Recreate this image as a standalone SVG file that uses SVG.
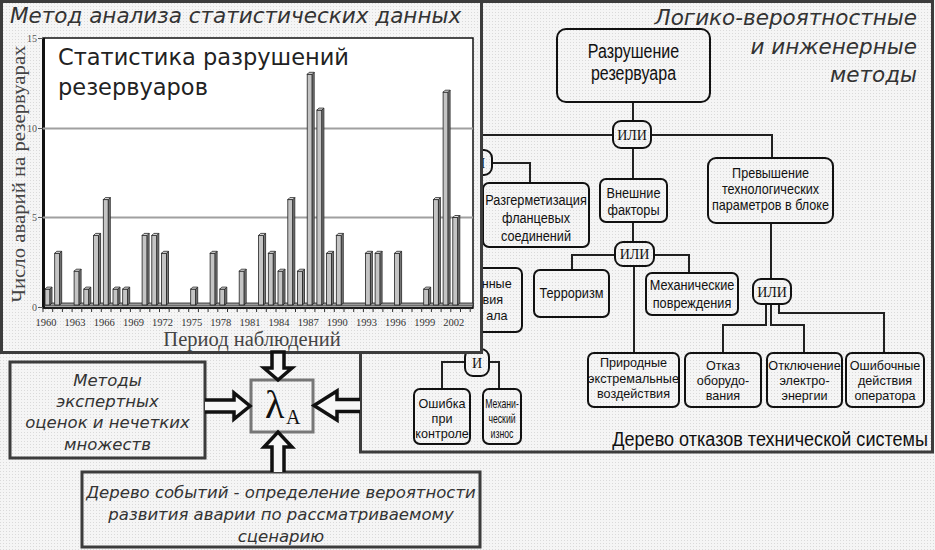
<svg xmlns="http://www.w3.org/2000/svg" width="935" height="550" viewBox="0 0 935 550">
<defs>
<pattern id="dots" width="3" height="3" patternUnits="userSpaceOnUse"><rect width="3" height="3" fill="#f5f5f5"/><rect width="1" height="1" fill="#dadada"/></pattern>
</defs>
<style>
.panel{fill:url(#dots);stroke:#3c3c3c;stroke-width:3}
.nb{fill:url(#dots);stroke:#111;stroke-width:2}
.gate{fill:url(#dots);stroke:#111;stroke-width:2}
.ln{fill:none;stroke:#222;stroke-width:2}
.t{font-family:"Liberation Sans",Arial,sans-serif;font-size:15.5px;fill:#111;text-anchor:middle}
.s{font-size:13px}
.g{font-family:"Liberation Serif","Times New Roman",serif;font-size:14px;fill:#111;text-anchor:middle}
.it{font-family:"DejaVu Sans",Verdana,sans-serif;font-style:italic;fill:#333}
.bf{fill:#c4c4c4;stroke:#222;stroke-width:0.8}
.bs{fill:#7d7d7d;stroke:#222;stroke-width:0.8}
.bt{fill:#e2e2e2;stroke:#222;stroke-width:0.8}
.yr{font-family:"Liberation Serif","Times New Roman",serif;font-size:10.5px;fill:#333;text-anchor:middle}
.yl{font-family:"Liberation Serif","Times New Roman",serif;font-size:10px;fill:#555;text-anchor:end}
.arr{fill:#f7f7f7;stroke:#111;stroke-width:3.5;stroke-linejoin:miter}
</style>
<rect width="935" height="550" fill="url(#dots)"/>

<!-- right panel: fault tree -->
<g id="tree-panel">
<rect class="panel" x="360.5" y="1.5" width="572" height="450.5"/>
<text class="it" font-size="21.5" text-anchor="end"><tspan x="917" y="25">Логико-вероятностные</tspan><tspan x="917" y="54">и инженерные</tspan><tspan x="917" y="82">методы</tspan></text>
<text class="t" style="font-size:21px;text-anchor:end" transform="translate(928 446) scale(0.86 1)" x="0" y="0">Дерево отказов технической системы</text>
</g>

<g id="connectors">
<path class="ln" d="M633 102V121"/>
<path class="ln" d="M613 135H480V150"/>
<path class="ln" d="M651 135H772V158"/>
<path class="ln" d="M633 148V179"/>
<path class="ln" d="M492 163H530V183"/>
<path class="ln" d="M480 175V268"/>
<path class="ln" d="M633 222V242"/>
<path class="ln" d="M615 255H572V270"/>
<path class="ln" d="M654 255H689V273"/>
<path class="ln" d="M634 266V353"/>
<path class="ln" d="M771 223V279"/>
<path class="ln" d="M766 304V325H723V353"/>
<path class="ln" d="M771 304V325H804V353"/>
<path class="ln" d="M779 304V313H884V353"/>
<path class="ln" d="M477 332V349"/>
<path class="ln" d="M465 362H442V389"/>
<path class="ln" d="M489 362H499V389"/>
</g>

<g id="n-top"><rect class="nb" x="557" y="29" width="153" height="73" rx="9"/>
<text class="t" style="font-size:20px" transform="translate(633.5 0) scale(0.8 1)"><tspan x="0" y="58">Разрушение</tspan><tspan x="0" y="80">резервуара</tspan></text></g>
<g id="g-or1"><rect class="gate" x="613" y="121" width="38" height="27" rx="8"/><text class="g" x="632" y="140">ИЛИ</text></g>
<g id="g-and1"><rect class="gate" x="467" y="150" width="25" height="25" rx="8"/><text class="g" x="480" y="167.5">И</text></g>
<g id="n-razgerm"><rect class="nb" x="483" y="183" width="106" height="64" rx="6"/>
<text class="t" transform="translate(536 0) scale(0.82 1)"><tspan x="0" y="205">Разгерметизация</tspan><tspan x="0" y="223">фланцевых</tspan><tspan x="0" y="241">соединений</tspan></text></g>
<g id="n-vnesh"><rect class="nb" x="600" y="179" width="67" height="43" rx="6"/>
<text class="t" transform="translate(633.5 0) scale(0.82 1)"><tspan x="0" y="198">Внешние</tspan><tspan x="0" y="215.5">факторы</tspan></text></g>
<g id="n-prevysh"><rect class="nb" x="708" y="158" width="125" height="65" rx="8"/>
<text class="t" style="font-size:14px" transform="translate(770.5 0) scale(0.9 1)"><tspan x="0" y="178">Превышение</tspan><tspan x="0" y="194">технологических</tspan><tspan x="0" y="210">параметров в блоке</tspan></text></g>
<g id="g-or2"><rect class="gate" x="615" y="242" width="39" height="24" rx="8"/><text class="g" x="634.5" y="259">ИЛИ</text></g>
<g id="n-personal"><rect class="nb" x="430" y="268" width="92" height="64" rx="6"/>
<text class="t s" style="text-anchor:end" transform="scale(0.97 1)"><tspan x="527.5" y="288">нные</tspan><tspan x="518.6" y="304">вия</tspan><tspan x="523.2" y="320">ала</tspan></text></g>
<g id="n-terror"><rect class="nb" x="534" y="270" width="75" height="47" rx="6"/>
<text class="t" transform="translate(571.5 0) scale(0.82 1)" x="0" y="298">Терроризм</text></g>
<g id="n-mech"><rect class="nb" x="646" y="273" width="92" height="42" rx="6"/>
<text class="t" transform="translate(692 0) scale(0.82 1)"><tspan x="0" y="290">Механические</tspan><tspan x="0" y="308">повреждения</tspan></text></g>
<g id="g-or3"><rect class="gate" x="753" y="279" width="38" height="25" rx="8"/><text class="g" x="772" y="296.5">ИЛИ</text></g>
<g id="n-prirod"><rect class="nb" x="588" y="353" width="91" height="54" rx="6"/>
<text class="t s" transform="translate(633.5 0) scale(0.97 1)"><tspan x="0" y="367">Природные</tspan><tspan x="0" y="383">экстремальные</tspan><tspan x="0" y="398">воздействия</tspan></text></g>
<g id="n-otkaz"><rect class="nb" x="685" y="353" width="76" height="54" rx="6"/>
<text class="t s" transform="translate(723 0) scale(0.97 1)"><tspan x="0" y="370">Отказ</tspan><tspan x="0" y="385">оборудо-</tspan><tspan x="0" y="400">вания</tspan></text></g>
<g id="n-otkl"><rect class="nb" x="767" y="353" width="75" height="54" rx="6"/>
<text class="t s" transform="translate(804.5 0) scale(0.97 1)"><tspan x="0" y="370">Отключение</tspan><tspan x="0" y="385">электро-</tspan><tspan x="0" y="400">энергии</tspan></text></g>
<g id="n-operator"><rect class="nb" x="846" y="353" width="78" height="54" rx="6"/>
<text class="t s" transform="translate(885 0) scale(0.97 1)"><tspan x="0" y="370">Ошибочные</tspan><tspan x="0" y="385">действия</tspan><tspan x="0" y="400">оператора</tspan></text></g>
<g id="g-and2"><rect class="gate" x="465" y="349" width="24" height="27" rx="8"/><text class="g" x="477" y="367.5">И</text></g>
<g id="n-kontrol"><rect class="nb" x="414" y="389" width="56" height="55" rx="6"/>
<text class="t s" transform="translate(442 0) scale(0.97 1)"><tspan x="0" y="408">Ошибка</tspan><tspan x="0" y="423">при</tspan><tspan x="0" y="438">контроле</tspan></text></g>
<g id="n-iznos"><rect class="nb" x="483" y="389" width="38" height="55" rx="6"/>
<text class="t s" transform="translate(502 0) scale(0.67 1)"><tspan x="0" y="408">Механи-</tspan><tspan x="0" y="423">ческий</tspan><tspan x="0" y="438">износ</tspan></text></g>

<!-- chart panel -->
<g id="chart-panel">
<rect class="panel" x="1.5" y="1.5" width="480" height="351"/>
<text class="it" font-size="21.5" x="10" y="23">Метод анализа статистических данных</text>
<rect x="43" y="38" width="430" height="270" fill="#fff" stroke="#111" stroke-width="1.5"/>
<path d="M43.5 38V308" stroke="#111" stroke-width="3"/>
<path d="M43 128.5H473M43 217.5H473" stroke="#a0a0a0" stroke-width="2"/>
<path d="M38 38.5H43M38 128.5H43M38 217.5H43M38 307.5H43" stroke="#555" stroke-width="1"/>
<text class="yl" x="37" y="42">15</text><text class="yl" x="37" y="132">10</text><text class="yl" x="37" y="221">5</text><text class="yl" x="37" y="311">0</text>
<text font-family="'Liberation Serif','Times New Roman',serif" font-size="19" fill="#444" text-anchor="middle" transform="translate(25 174) rotate(-90)" textLength="257" lengthAdjust="spacingAndGlyphs">Число аварий на резервуарах</text>
<text font-family="'DejaVu Sans',Verdana,sans-serif" font-size="22.5" fill="#222"><tspan x="58" y="65">Статистика разрушений</tspan><tspan x="58" y="95">резервуаров</tspan></text>
<path d="M44 306L46 303H473V306Z" fill="#9a9a9a" stroke="#222" stroke-width="0.8"/>
<g id="bars">
<rect class="bf" x="45" y="289.1" width="5" height="15.9"/><path class="bs" d="M50 289.1l2-2V303l-2 2z"/><path class="bt" d="M45 289.1l2-2h5l-2 2z"/>
<rect class="bf" x="54.7" y="253.3" width="5" height="51.7"/><path class="bs" d="M59.7 253.3l2-2V303l-2 2z"/><path class="bt" d="M54.7 253.3l2-2h5l-2 2z"/>
<rect class="bf" x="74.1" y="271.2" width="5" height="33.8"/><path class="bs" d="M79.1 271.2l2-2V303l-2 2z"/><path class="bt" d="M74.1 271.2l2-2h5l-2 2z"/>
<rect class="bf" x="83.8" y="289.1" width="5" height="15.9"/><path class="bs" d="M88.8 289.1l2-2V303l-2 2z"/><path class="bt" d="M83.8 289.1l2-2h5l-2 2z"/>
<rect class="bf" x="93.6" y="235.4" width="5" height="69.6"/><path class="bs" d="M98.6 235.4l2-2V303l-2 2z"/><path class="bt" d="M93.6 235.4l2-2h5l-2 2z"/>
<rect class="bf" x="103.3" y="199.6" width="5" height="105.4"/><path class="bs" d="M108.3 199.6l2-2V303l-2 2z"/><path class="bt" d="M103.3 199.6l2-2h5l-2 2z"/>
<rect class="bf" x="113" y="289.1" width="5" height="15.9"/><path class="bs" d="M118 289.1l2-2V303l-2 2z"/><path class="bt" d="M113 289.1l2-2h5l-2 2z"/>
<rect class="bf" x="122.7" y="289.1" width="5" height="15.9"/><path class="bs" d="M127.7 289.1l2-2V303l-2 2z"/><path class="bt" d="M122.7 289.1l2-2h5l-2 2z"/>
<rect class="bf" x="142.1" y="235.4" width="5" height="69.6"/><path class="bs" d="M147.1 235.4l2-2V303l-2 2z"/><path class="bt" d="M142.1 235.4l2-2h5l-2 2z"/>
<rect class="bf" x="151.8" y="235.4" width="5" height="69.6"/><path class="bs" d="M156.8 235.4l2-2V303l-2 2z"/><path class="bt" d="M151.8 235.4l2-2h5l-2 2z"/>
<rect class="bf" x="161.5" y="253.3" width="5" height="51.7"/><path class="bs" d="M166.5 253.3l2-2V303l-2 2z"/><path class="bt" d="M161.5 253.3l2-2h5l-2 2z"/>
<rect class="bf" x="190.7" y="289.1" width="5" height="15.9"/><path class="bs" d="M195.7 289.1l2-2V303l-2 2z"/><path class="bt" d="M190.7 289.1l2-2h5l-2 2z"/>
<rect class="bf" x="210.1" y="253.3" width="5" height="51.7"/><path class="bs" d="M215.1 253.3l2-2V303l-2 2z"/><path class="bt" d="M210.1 253.3l2-2h5l-2 2z"/>
<rect class="bf" x="219.8" y="289.1" width="5" height="15.9"/><path class="bs" d="M224.8 289.1l2-2V303l-2 2z"/><path class="bt" d="M219.8 289.1l2-2h5l-2 2z"/>
<rect class="bf" x="239.2" y="271.2" width="5" height="33.8"/><path class="bs" d="M244.2 271.2l2-2V303l-2 2z"/><path class="bt" d="M239.2 271.2l2-2h5l-2 2z"/>
<rect class="bf" x="258.6" y="235.4" width="5" height="69.6"/><path class="bs" d="M263.6 235.4l2-2V303l-2 2z"/><path class="bt" d="M258.6 235.4l2-2h5l-2 2z"/>
<rect class="bf" x="268.3" y="253.3" width="5" height="51.7"/><path class="bs" d="M273.3 253.3l2-2V303l-2 2z"/><path class="bt" d="M268.3 253.3l2-2h5l-2 2z"/>
<rect class="bf" x="278" y="271.2" width="5" height="33.8"/><path class="bs" d="M283 271.2l2-2V303l-2 2z"/><path class="bt" d="M278 271.2l2-2h5l-2 2z"/>
<rect class="bf" x="287.8" y="199.6" width="5" height="105.4"/><path class="bs" d="M292.8 199.6l2-2V303l-2 2z"/><path class="bt" d="M287.8 199.6l2-2h5l-2 2z"/>
<rect class="bf" x="297.5" y="271.2" width="5" height="33.8"/><path class="bs" d="M302.5 271.2l2-2V303l-2 2z"/><path class="bt" d="M297.5 271.2l2-2h5l-2 2z"/>
<rect class="bf" x="307.2" y="74.3" width="5" height="230.7"/><path class="bs" d="M312.2 74.3l2-2V303l-2 2z"/><path class="bt" d="M307.2 74.3l2-2h5l-2 2z"/>
<rect class="bf" x="316.9" y="110.1" width="5" height="194.9"/><path class="bs" d="M321.9 110.1l2-2V303l-2 2z"/><path class="bt" d="M316.9 110.1l2-2h5l-2 2z"/>
<rect class="bf" x="326.6" y="253.3" width="5" height="51.7"/><path class="bs" d="M331.6 253.3l2-2V303l-2 2z"/><path class="bt" d="M326.6 253.3l2-2h5l-2 2z"/>
<rect class="bf" x="336.3" y="235.4" width="5" height="69.6"/><path class="bs" d="M341.3 235.4l2-2V303l-2 2z"/><path class="bt" d="M336.3 235.4l2-2h5l-2 2z"/>
<rect class="bf" x="365.4" y="253.3" width="5" height="51.7"/><path class="bs" d="M370.4 253.3l2-2V303l-2 2z"/><path class="bt" d="M365.4 253.3l2-2h5l-2 2z"/>
<rect class="bf" x="375.1" y="253.3" width="5" height="51.7"/><path class="bs" d="M380.1 253.3l2-2V303l-2 2z"/><path class="bt" d="M375.1 253.3l2-2h5l-2 2z"/>
<rect class="bf" x="394.6" y="253.3" width="5" height="51.7"/><path class="bs" d="M399.6 253.3l2-2V303l-2 2z"/><path class="bt" d="M394.6 253.3l2-2h5l-2 2z"/>
<rect class="bf" x="423.7" y="289.1" width="5" height="15.9"/><path class="bs" d="M428.7 289.1l2-2V303l-2 2z"/><path class="bt" d="M423.7 289.1l2-2h5l-2 2z"/>
<rect class="bf" x="433.4" y="199.6" width="5" height="105.4"/><path class="bs" d="M438.4 199.6l2-2V303l-2 2z"/><path class="bt" d="M433.4 199.6l2-2h5l-2 2z"/>
<rect class="bf" x="443.1" y="92.2" width="5" height="212.8"/><path class="bs" d="M448.1 92.2l2-2V303l-2 2z"/><path class="bt" d="M443.1 92.2l2-2h5l-2 2z"/>
<rect class="bf" x="452.8" y="217.5" width="5" height="87.5"/><path class="bs" d="M457.8 217.5l2-2V303l-2 2z"/><path class="bt" d="M452.8 217.5l2-2h5l-2 2z"/>
</g>
<path d="M43 308H473" stroke="#111" stroke-width="1.5"/>
<path d="M43 308v4M52.7 308v4M62.4 308v4M72.1 308v4M81.8 308v4M91.6 308v4M101.3 308v4M111 308v4M120.7 308v4M130.4 308v4M140.1 308v4M149.8 308v4M159.5 308v4M169.2 308v4M178.9 308v4M188.7 308v4M198.4 308v4M208.1 308v4M217.8 308v4M227.5 308v4M237.2 308v4M246.9 308v4M256.6 308v4M266.3 308v4M276 308v4M285.8 308v4M295.5 308v4M305.2 308v4M314.9 308v4M324.6 308v4M334.3 308v4M344 308v4M353.7 308v4M363.4 308v4M373.1 308v4M382.9 308v4M392.6 308v4M402.3 308v4M412 308v4M421.7 308v4M431.4 308v4M441.1 308v4M450.8 308v4M460.5 308v4M470.2 308v4" stroke="#333" stroke-width="1"/>
<text class="yr" y="325.5"><tspan x="46">1960</tspan><tspan x="75.1">1963</tspan><tspan x="104.3">1966</tspan><tspan x="133.4">1969</tspan><tspan x="162.5">1972</tspan><tspan x="191.7">1975</tspan><tspan x="220.8">1978</tspan><tspan x="249.9">1981</tspan><tspan x="279">1984</tspan><tspan x="308.2">1987</tspan><tspan x="337.3">1990</tspan><tspan x="366.4">1993</tspan><tspan x="395.6">1996</tspan><tspan x="424.7">1999</tspan><tspan x="453.8">2002</tspan></text>
<text font-family="'Liberation Serif','Times New Roman',serif" font-size="20.5" fill="#444" text-anchor="middle" x="252" y="346">Период наблюдений</text>
</g>

<g id="n-expert">
<rect class="panel" x="10" y="362" width="195" height="96"/>
<text class="it" font-size="16.5" text-anchor="middle"><tspan x="107.5" y="386">Методы</tspan><tspan x="107.5" y="407">экспертных</tspan><tspan x="107.5" y="428">оценок и нечетких</tspan><tspan x="107.5" y="450">множеств</tspan></text>
</g>
<g id="n-events">
<rect class="panel" x="82" y="472" width="398" height="75"/>
<text class="it" font-size="16.5" text-anchor="middle"><tspan x="281" y="498">Дерево событий - определение вероятности</tspan><tspan x="281" y="520">развития аварии по рассматриваемому</tspan><tspan x="281" y="542">сценарию</tspan></text>
</g>
<g id="n-lambda">
<rect x="251" y="380" width="62" height="52" fill="url(#dots)" stroke="#777" stroke-width="3"/>
<text font-family="'Liberation Serif','Times New Roman',serif" fill="#111"><tspan x="265" y="418" font-size="40">λ</tspan><tspan x="286" y="424" font-size="20">A</tspan></text>
</g>
<g id="arrows">
<path class="arr" d="M272 352H284V368H292L278 380L264 368H272Z"/>
<path class="arr" d="M272 472V447H264L278 432L292 447H284V472"/>
<path class="arr" d="M205 400H234V393L250 406L234 419V412H205"/>
<path class="arr" d="M360 399.5H337V391L314 405.5L337 420V411.5H360"/>
</g>
</svg>
